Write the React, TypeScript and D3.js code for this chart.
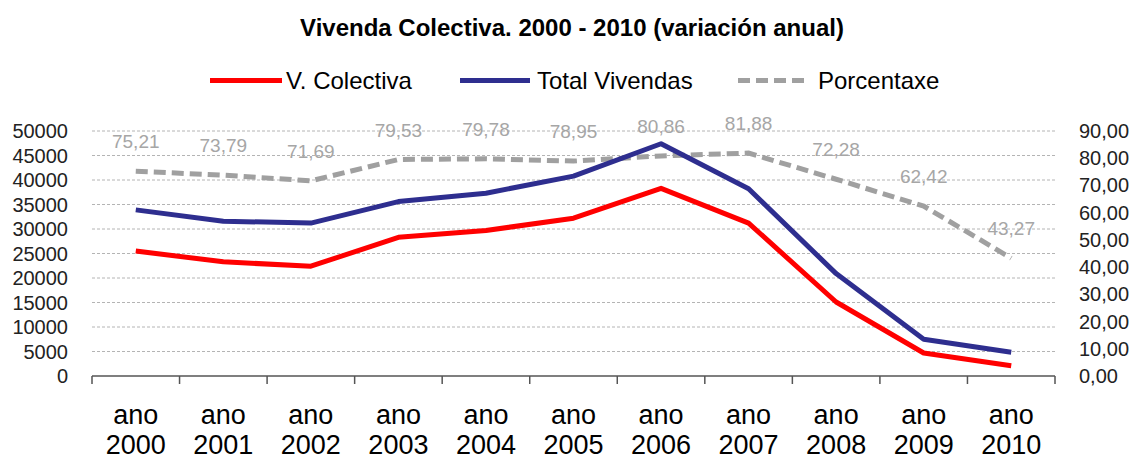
import React from 'react';
import * as d3 from 'd3';

const years = ['2000', '2001', '2002', '2003', '2004', '2005', '2006', '2007', '2008', '2009', '2010'];
const colectiva = [25500, 23300, 22400, 28300, 29700, 32200, 38300, 31200, 15100, 4700, 2100];
const totalVivendas = [33900, 31600, 31200, 35600, 37300, 40800, 47400, 38200, 20900, 7500, 4850];
const porcentaxe = [75.21, 73.79, 71.69, 79.53, 79.78, 78.95, 80.86, 81.88, 72.28, 62.42, 43.27];
const leftTicks = [0, 5000, 10000, 15000, 20000, 25000, 30000, 35000, 40000, 45000, 50000];
const rightTicks = [0, 10, 20, 30, 40, 50, 60, 70, 80, 90];

const W = 1134;
const H = 455;
const FONT = '"Liberation Sans", Arial, sans-serif';

function App() {
  const x = d3.scaleBand().domain(years).range([92, 1055]).padding(0);
  const yL = d3.scaleLinear().domain([0, 50000]).range([376, 131]);
  const yR = d3.scaleLinear().domain([0, 90]).range([376, 131]);
  const cx = (d: string) => (x(d) as number) + x.bandwidth() / 2;

  const lineL = d3.line<number>().x((d, i) => cx(years[i])).y((d) => yL(d));
  const lineR = d3.line<number>().x((d, i) => cx(years[i])).y((d) => yR(d));

  const fmt = (v: number) => v.toFixed(2).replace('.', ',');
  const boundaries = [...years.map((d) => x(d) as number), 1055];

  // legend entries
  const legend = [
    { label: 'V. Colectiva', color: '#ff0000', dash: null, x1: 210, x2: 282, tx: 286 },
    { label: 'Total Vivendas', color: '#2e2e8f', dash: null, x1: 460, x2: 530, tx: 537 },
    { label: 'Porcentaxe', color: '#a0a0a0', dash: '12 6', x1: 738, x2: 810, tx: 818 },
  ];

  return (
    <svg width={W} height={H} style={{ position: 'absolute', left: 0, top: 0, background: '#fff' }} fontFamily={FONT}>
      <text x={572} y={36} textAnchor="middle" fontSize={24} fontWeight="bold" fill="#000">
        Vivenda Colectiva. 2000 - 2010 (variación anual)
      </text>

      {legend.map((l) => (
        <g key={l.label}>
          <line x1={l.x1} x2={l.x2} y1={80.5} y2={80.5} stroke={l.color} strokeWidth={5}
            strokeDasharray={l.dash || undefined} />
          <text x={l.tx} y={89} fontSize={24} fill="#000">{l.label}</text>
        </g>
      ))}

      {leftTicks.filter((t) => t > 0).map((t) => (
        <line key={t} x1={92} x2={1055} y1={yL(t)} y2={yL(t)} stroke="#b4b4b4" strokeWidth={1} strokeDasharray="3 2" />
      ))}

      <line x1={92} x2={1055} y1={376} y2={376} stroke="#555" strokeWidth={1.5} />
      {boundaries.map((b, i) => (
        <line key={i} x1={b} x2={b} y1={376} y2={384} stroke="#555" strokeWidth={1.5} />
      ))}

      {leftTicks.map((t) => (
        <text key={t} x={68} y={yL(t) + 7} textAnchor="end" fontSize={20} fill="#222">{t}</text>
      ))}
      {rightTicks.map((t) => (
        <text key={t} x={1079} y={yR(t) + 7} fontSize={20} fill="#222">{fmt(t)}</text>
      ))}

      {years.map((d) => (
        <g key={d}>
          <text x={cx(d)} y={424} textAnchor="middle" fontSize={27} fill="#000">ano</text>
          <text x={cx(d)} y={454} textAnchor="middle" fontSize={27} fill="#000">{d}</text>
        </g>
      ))}

      <path d={lineR(porcentaxe) || ''} fill="none" stroke="#a0a0a0" strokeWidth={5} strokeDasharray="12 6" />
      <path d={lineL(totalVivendas) || ''} fill="none" stroke="#2e2e8f" strokeWidth={5} strokeLinejoin="round" />
      <path d={lineL(colectiva) || ''} fill="none" stroke="#ff0000" strokeWidth={5} strokeLinejoin="round" />

      {porcentaxe.map((v, i) => (
        <text key={i} x={cx(years[i])} y={yR(v) - 23} textAnchor="middle" fontSize={19} fill="#a6a6a6">{fmt(v)}</text>
      ))}
    </svg>
  );
}

export default App;
